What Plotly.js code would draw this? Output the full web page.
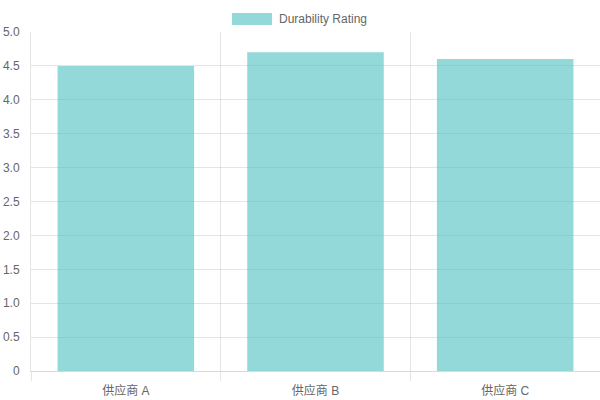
<!DOCTYPE html>
<html>
<head>
<meta charset="utf-8">
<script src="https://cdn.plot.ly/plotly-3.0.1.min.js"></script>
<style>
  html, body { margin: 0; padding: 0; background: #fff; }
  #chart { width: 600px; height: 400px; }
</style>
</head>
<body>
<div id="chart"></div>
<script>
// 供应商耐用性评分
var suppliers = ['供应商 A', '供应商 B', '供应商 C'];
var durability = [4.5, 4.7, 4.6];
var seriesName = 'Durability Rating';
var yTickVals = [0, 0.5, 1, 1.5, 2, 2.5, 3, 3.5, 4, 4.5, 5];
var yTickText = ['0', '0.5', '1.0', '1.5', '2.0', '2.5', '3.0', '3.5', '4.0', '4.5', '5.0'];

var fontFam = '"Liberation Sans", Arial, "Noto Sans CJK SC", sans-serif';
var grid = 'rgba(0,0,0,0.1)';
var barFill = 'rgba(75,192,192,0.6)';

var data = [{
  type: 'bar',
  x: suppliers,
  y: durability,
  name: seriesName,
  width: 0.72,
  marker: {
    color: barFill,
    line: { width: 0 }
  },
  hoverinfo: 'x+y'
}];

var layout = {
  width: 600,
  height: 400,
  margin: { l: 31, r: 0, t: 32, b: 29 },
  paper_bgcolor: '#fff',
  plot_bgcolor: '#fff',
  font: { family: fontFam, size: 12, color: '#666' },
  showlegend: false,
  xaxis: {
    type: 'category',
    tickson: 'boundaries',
    showgrid: true,
    gridcolor: grid,
    gridwidth: 1,
    ticks: 'outside',
    ticklen: 9,
    tickcolor: grid,
    ticklabelstandoff: 9,
    showline: true,
    linecolor: 'rgba(0,0,0,0.15)',
    zeroline: false,
    tickfont: { size: 12, color: '#666' }
  },
  yaxis: {
    range: [0, 5],
    tickvals: yTickVals,
    ticktext: yTickText,
    showgrid: true,
    gridcolor: grid,
    gridwidth: 1,
    zeroline: false,
    showline: true,
    linecolor: grid,
    ticks: 'outside',
    ticklen: 8,
    tickcolor: 'rgba(0,0,0,0)',
    tickfont: { size: 12, color: '#666' }
  },
  shapes: [{
    type: 'rect',
    xref: 'paper', yref: 'paper',
    x0: (232 - 31) / 569, x1: (272 - 31) / 569,
    y0: (368 - 22) / 339, y1: (368 - 10) / 339,
    fillcolor: barFill,
    line: { width: 0 }
  }],
  annotations: [{
    xref: 'paper', yref: 'paper',
    x: (277 - 31) / 569, y: (368 - 16) / 339,
    xanchor: 'left', yanchor: 'middle',
    text: seriesName,
    showarrow: false,
    font: { family: fontFam, size: 12, color: '#666' }
  }]
};

Plotly.newPlot('chart', data, layout, { displayModeBar: false, responsive: false });
</script>
</body>
</html>
